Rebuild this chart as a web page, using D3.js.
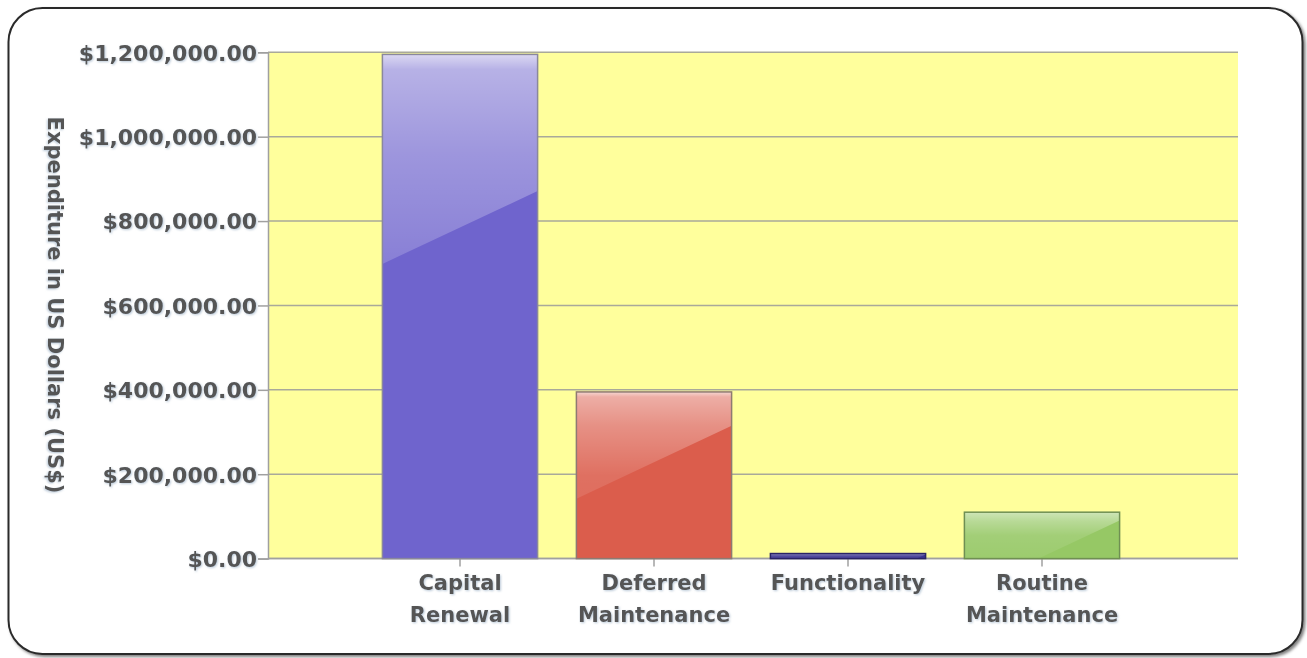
<!DOCTYPE html>
<html>
<head>
<meta charset="utf-8">
<script src="https://cdn.jsdelivr.net/npm/d3@7"></script>
<style>
  html, body { margin: 0; padding: 0; background: #ffffff; }
  svg { display: block; }
  text { font-family: "DejaVu Sans", Verdana, sans-serif; font-weight: bold; fill: #555555; }
</style>
</head>
<body>
<svg id="chart" width="1307" height="658"></svg>
<script>
// Expenditure by work category (US$)
const categories = ["Capital Renewal", "Deferred Maintenance", "Functionality", "Routine Maintenance"];
const expenditure = [1195000, 395000, 12000, 110000];
const yTicks = [0, 200000, 400000, 600000, 800000, 1000000, 1200000];
const yTitle = "Expenditure in US Dollars (US$)";

// Bar palette: base fill and outline per category
const barFill = ["#6f64cd", "#db5d4c", "#3b3491", "#96c865"];
const barStroke = ["#8a889c", "#8e7a72", "#2a2466", "#6f8f52"];

const svg = d3.select("#chart");
const plot = { left: 268, right: 1238, top: 52.3, bottom: 558.6 };

const defs = svg.append("defs");

// soft drop shadow for the outer frame
const frameShadow = defs.append("filter").attr("id", "frameShadow")
  .attr("x", "-5%").attr("y", "-5%").attr("width", "110%").attr("height", "110%");
frameShadow.append("feDropShadow").attr("dx", 2).attr("dy", 2)
  .attr("stdDeviation", 1.6).attr("flood-color", "#000").attr("flood-opacity", 0.5);

// faint halo behind labels
const textHalo = defs.append("filter").attr("id", "textHalo")
  .attr("x", "-10%").attr("y", "-30%").attr("width", "120%").attr("height", "160%");
textHalo.append("feDropShadow").attr("dx", 1).attr("dy", 1)
  .attr("stdDeviation", 0.8).attr("flood-color", "#9fb3c8").attr("flood-opacity", 0.7);

// outer rounded frame
svg.append("rect")
  .attr("x", 8.5).attr("y", 8).attr("width", 1294).attr("height", 646)
  .attr("rx", 34).attr("ry", 34)
  .attr("fill", "#ffffff").attr("stroke", "#2b2b2b").attr("stroke-width", 2)
  .attr("filter", "url(#frameShadow)");

// scales: category slots sit one step in from each end of the plot
const x = d3.scaleBand()
  .domain(categories)
  .range([plot.left - 2, plot.right - 2])
  .paddingInner(0.2)
  .paddingOuter(0.6);

const y = d3.scaleLinear()
  .domain([0, 1200000])
  .range([plot.bottom, plot.top]);

// plot background
svg.append("rect")
  .attr("x", plot.left).attr("y", plot.top)
  .attr("width", plot.right - plot.left).attr("height", plot.bottom - plot.top)
  .attr("fill", "#ffff9c");

// horizontal gridlines
svg.append("g").selectAll("line").data(yTicks).join("line")
  .attr("x1", plot.left).attr("x2", plot.right)
  .attr("y1", d => y(d)).attr("y2", d => y(d))
  .attr("stroke", "#a9a99a").attr("stroke-width", 1.5);

// y axis
const yAxis = svg.append("g")
  .attr("transform", `translate(${plot.left},0)`)
  .call(d3.axisLeft(y).tickValues(yTicks).tickFormat(d3.format("$,.2f")).tickSize(10).tickPadding(1));
yAxis.select(".domain").attr("stroke", "#a0a0a0").attr("stroke-width", 1.5);
yAxis.selectAll(".tick line").attr("stroke", "#a0a0a0").attr("stroke-width", 1.5);
yAxis.selectAll(".tick text")
  .attr("font-size", 22).attr("font-family", null).attr("fill", "#555555")
  .attr("dy", "0.36em").attr("filter", "url(#textHalo)");

// x axis
const xAxis = svg.append("g")
  .attr("transform", `translate(0,${plot.bottom})`)
  .call(d3.axisBottom(x).tickSize(8).tickFormat(""));
xAxis.select(".domain").attr("stroke", "#a0a0a0").attr("stroke-width", 1.5)
  .attr("d", `M${plot.left},0H${plot.right}`);
xAxis.selectAll(".tick line").attr("stroke", "#a0a0a0").attr("stroke-width", 1.5);

// category labels, wrapped on spaces
xAxis.selectAll(".tick").each(function(d) {
  const lines = d.split(" ");
  const t = d3.select(this).append("text")
    .attr("text-anchor", "middle")
    .attr("font-size", 21)
    .attr("fill", "#555555")
    .attr("filter", "url(#textHalo)");
  lines.forEach((ln, i) => {
    t.append("tspan").attr("x", 0).attr("y", 31.5 + i * 31.5).text(ln);
  });
});

// bars
const bars = svg.append("g");
categories.forEach((c, i) => {
  const v = expenditure[i];
  const x0 = x(c), w = x.bandwidth(), x1 = x0 + w;
  const y0 = y(v), yb = y(0), h = yb - y0;

  const g = bars.append("g");
  g.append("rect")
    .attr("x", x0).attr("y", y0).attr("width", w).attr("height", h)
    .attr("fill", barFill[i]);

  // glossy highlight: vertical white fade above a slanted edge
  const gid = "shine" + i;
  const grad = defs.append("linearGradient").attr("id", gid)
    .attr("gradientUnits", "userSpaceOnUse")
    .attr("x1", 0).attr("x2", 0).attr("y1", y0).attr("y2", yb);
  [[0, 0.75], [0.03, 0.5], [0.2, 0.32], [0.5, 0.12], [1, 0.06]].forEach(([o, a]) => {
    grad.append("stop").attr("offset", o).attr("stop-color", "#ffffff").attr("stop-opacity", a);
  });
  const slope = 0.47;
  const off = 0.17 * h + 0.0002 * h * h;
  const yr = y0 + off;
  const yl = yr + slope * w;
  let pts;
  if (yl <= yb) {
    pts = [[x0, y0], [x1, y0], [x1, yr], [x0, yl]];
  } else {
    const xbEdge = x1 - (yb - yr) / slope;
    pts = [[x0, y0], [x1, y0], [x1, Math.min(yr, yb)], [Math.max(xbEdge, x0), yb], [x0, yb]];
  }
  g.append("path")
    .attr("d", d3.line()(pts) + "Z")
    .attr("fill", `url(#${gid})`);

  g.append("rect")
    .attr("x", x0).attr("y", y0).attr("width", w).attr("height", h)
    .attr("fill", "none").attr("stroke", barStroke[i]).attr("stroke-width", 1.5);
});

// y axis title
svg.append("text")
  .attr("transform", `translate(48,305) rotate(90)`)
  .attr("text-anchor", "middle")
  .attr("font-size", 21)
  .attr("fill", "#555555")
  .attr("filter", "url(#textHalo)")
  .text(yTitle);
</script>
</body>
</html>
